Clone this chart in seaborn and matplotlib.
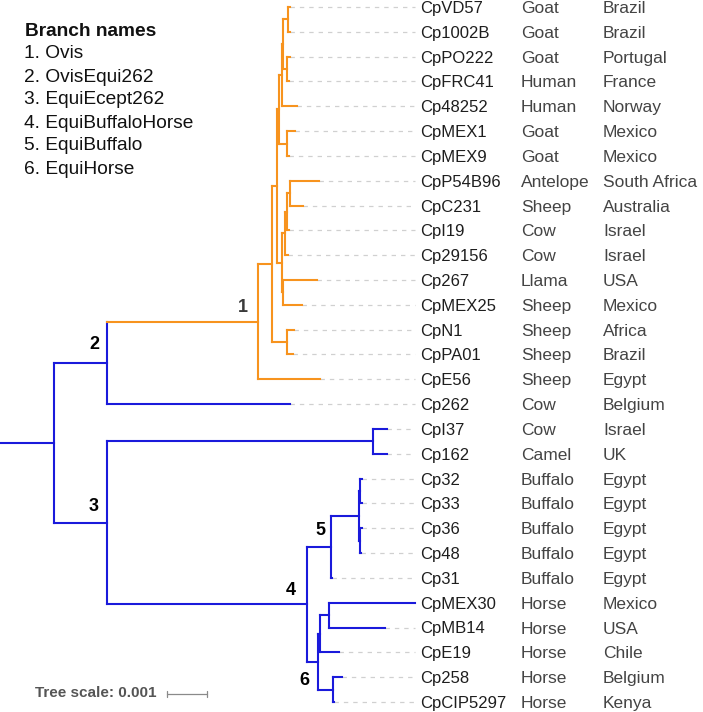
import numpy as np
import pandas as pd
import matplotlib
matplotlib.use("Agg")
import matplotlib.pyplot as plt
import seaborn as sns

# ---------------- data ----------------
leaf_names = ["CpVD57", "Cp1002B", "CpPO222", "CpFRC41", "Cp48252", "CpMEX1", "CpMEX9",
              "CpP54B96", "CpC231", "CpI19", "Cp29156", "Cp267", "CpMEX25", "CpN1",
              "CpPA01", "CpE56", "Cp262", "CpI37", "Cp162", "Cp32", "Cp33", "Cp36",
              "Cp48", "Cp31", "CpMEX30", "CpMB14", "CpE19", "Cp258", "CpCIP5297"]
hosts = ["Goat", "Goat", "Goat", "Human", "Human", "Goat", "Goat", "Antelope", "Sheep",
         "Cow", "Cow", "Llama", "Sheep", "Sheep", "Sheep", "Sheep", "Cow", "Cow", "Camel",
         "Buffalo", "Buffalo", "Buffalo", "Buffalo", "Buffalo", "Horse", "Horse", "Horse",
         "Horse", "Horse"]
countries = ["Brazil", "Brazil", "Portugal", "France", "Norway", "Mexico", "Mexico",
             "South Africa", "Australia", "Israel", "Israel", "USA", "Mexico", "Africa",
             "Brazil", "Egypt", "Belgium", "Israel", "UK", "Egypt", "Egypt", "Egypt",
             "Egypt", "Egypt", "Mexico", "USA", "Chile", "Belgium", "Kenya"]
# leaf parents and depths (depth in units of 0.001 substitutions/site from origin)
leaf_parents = ["nVD", "nVD", "nPO", "nPO", "T2", "nMX", "nMX", "X1", "X1", "X2", "X3",
                "Y", "Y", "nN1", "nN1", "n1", "n2", "nI37", "nI37", "A1", "A1", "A2", "A2",
                "n5", "C", "C", "B", "n6", "n6"]
leaf_depths = [7.24, 7.24, 7.25, 7.225, 7.425, 7.375, 7.225, 7.975, 7.575, 7.225, 7.20,
               7.925, 7.55, 7.35, 7.325, 8.0, 7.25, 9.675, 9.675, 9.04, 9.05, 9.05, 9.025,
               8.29, 10.375, 9.625, 8.475, 8.55, 8.34]
# internal nodes
node_names = ["root", "n2", "n3", "n1", "P", "V", "U", "T2", "T1", "nVD", "nPO", "nMX",
              "W", "X3", "X2", "X1", "Y", "nN1", "nI37", "n4", "n5", "Z", "A1", "A2",
              "A", "B", "C", "n6"]
node_parents = [None, "root", "root", "n2", "n1", "P", "V", "U", "T2", "T1", "T1", "U",
                "V", "W", "X3", "X2", "W", "P", "n3", "n3", "n4", "n5", "Z", "Z",
                "n4", "A", "B", "A"]
node_depths = [1.35, 2.675, 2.675, 6.45, 6.80, 6.925, 6.975, 7.04, 7.075, 7.20, 7.175,
               7.175, 7.05, 7.125, 7.175, 7.25, 7.075, 7.175, 9.325, 7.675, 8.275, 8.975,
               9.0, 9.0, 7.95, 8.0, 8.225, 8.325]
orange_clade_root = "n1"
branch_labels = ["1", "2", "3", "4", "5", "6"]
branch_label_nodes = ["n1", "n2", "n3", "n4", "n5", "n6"]
legend_title = "Branch names"
legend_items = ["1. Ovis", "2. OvisEqui262", "3. EquiEcept262", "4. EquiBuffaloHorse",
                "5. EquiBuffalo", "6. EquiHorse"]
scale_value = 0.001

# ---------------- layout helpers ----------------
W, H = 703, 712
PXX = 40.0          # pixels per 0.001 unit
Y0, DY = 7.0, 24.82  # leaf pixel positions

def px_to_data(xp, yp):
    return xp / PXX, (yp - Y0) / DY

# ---------------- build tree geometry ----------------
parent = {}
depth = {}
for n, p, d in zip(node_names, node_parents, node_depths):
    parent[n] = p
    depth[n] = d
for n, p, d in zip(leaf_names, leaf_parents, leaf_depths):
    parent[n] = p
    depth[n] = d
children = {n: [] for n in list(parent)}
for n, p in parent.items():
    if p is not None:
        children[p].append(n)

ypos = {n: float(i) for i, n in enumerate(leaf_names)}

def get_y(n):
    if n in ypos:
        return ypos[n]
    ys = [get_y(c) for c in children[n]]
    ypos[n] = (min(ys) + max(ys)) / 2.0
    return ypos[n]

get_y("root")

def in_clade(n, top):
    while n is not None:
        if n == top:
            return True
        n = parent[n]
    return False

clade = {n: ("Ovis" if in_clade(n, orange_clade_root) else "Equi") for n in parent}

rows = []
seg = 0
rows += [dict(seg=seg, x=0.0, y=ypos["root"], clade="Equi"),
         dict(seg=seg, x=depth["root"], y=ypos["root"], clade="Equi")]
seg += 1
for n, p in parent.items():
    if p is None:
        continue
    rows += [dict(seg=seg, x=depth[p], y=ypos[n], clade=clade[n]),
             dict(seg=seg, x=depth[n], y=ypos[n], clade=clade[n])]
    seg += 1
for n in node_names:
    ys = [ypos[c] for c in children[n]]
    rows += [dict(seg=seg, x=depth[n], y=min(ys), clade=clade[n]),
             dict(seg=seg, x=depth[n], y=max(ys), clade=clade[n])]
    seg += 1
df = pd.DataFrame(rows)

guide_end = 415 / PXX
grows = []
for i, n in enumerate(leaf_names):
    grows += [dict(seg=i, x=depth[n], y=ypos[n]), dict(seg=i, x=guide_end, y=ypos[n])]
gdf = pd.DataFrame(grows)

# ---------------- plot ----------------
sns.set_theme(style="white")
plt.rcParams["font.family"] = ["Liberation Sans", "DejaVu Sans"]

fig = plt.figure(figsize=(W / 100, H / 100), dpi=100)
ax = fig.add_axes([0, 0, 1, 1])

sns.lineplot(data=gdf, x="x", y="y", units="seg", estimator=None, sort=False,
             color="#d0d0d0", lw=0.9, ax=ax, legend=False, dashes=False)
for l in ax.get_lines():
    l.set_dashes((3.5, 4))

sns.lineplot(data=df, x="x", y="y", units="seg", estimator=None, sort=False,
             hue="clade", palette={"Ovis": "#f7931e", "Equi": "#1a1adb"},
             lw=1.5, ax=ax, legend=False, solid_capstyle="projecting")

ax.set_xlim(0, W / PXX)
ax.set_ylim((H - Y0) / DY, -Y0 / DY)
ax.axis("off")

# leaf labels
name_x, host_x, country_x = 420 / PXX, 521 / PXX, 603 / PXX
for i, n in enumerate(leaf_names):
    ax.text(name_x, ypos[n], n, fontsize=12, color="#1e1e1e", va="center_baseline", ha="left")
    ax.text(host_x, ypos[n], hosts[i], fontsize=12.5, color="#444444",
            va="center_baseline", ha="left")
    ax.text(country_x, ypos[n], countries[i], fontsize=12.5, color="#444444",
            va="center_baseline", ha="left")

# branch labels (offsets in pixels)
label_offsets = {"n1": (-15, -14), "n2": (-13, -18), "n3": (-13, -16),
                 "n4": (-16, -14), "n5": (-11, -16), "n6": (-29, -9)}
label_colors = {"n1": "#3a3a3a"}
for lab, n in zip(branch_labels, branch_label_nodes):
    dx, dy = label_offsets[n]
    ax.annotate(lab, (depth[n], ypos[n]), xytext=(dx * 0.72, -dy * 0.72),
                textcoords="offset points", fontsize=13, fontweight="bold",
                color=label_colors.get(n, "#000000"), ha="center", va="center")

# legend
fig.text(25 / W, 1 - 31 / H, legend_title, fontsize=13.8, fontweight="bold",
         color="#111111", ha="left", va="center")
for k, item in enumerate(legend_items):
    fig.text(24 / W, 1 - (54 + 23.0 * k) / H, item, fontsize=13.8, color="#111111",
             ha="left", va="center")

# tree scale
sx0, sy = px_to_data(167, 694)
ax.plot([sx0, sx0 + scale_value * 1000], [sy, sy], color="#8a8a8a", lw=0.9)
for xx in (sx0, sx0 + scale_value * 1000):
    ax.plot([xx, xx], [sy - 0.12, sy + 0.12], color="#8a8a8a", lw=0.9)
fig.text(35 / W, 1 - 693 / H, f"Tree scale: {scale_value:g}", fontsize=11,
         fontweight="bold", color="#555555", ha="left", va="center")

fig.savefig("out.png", dpi=100)
